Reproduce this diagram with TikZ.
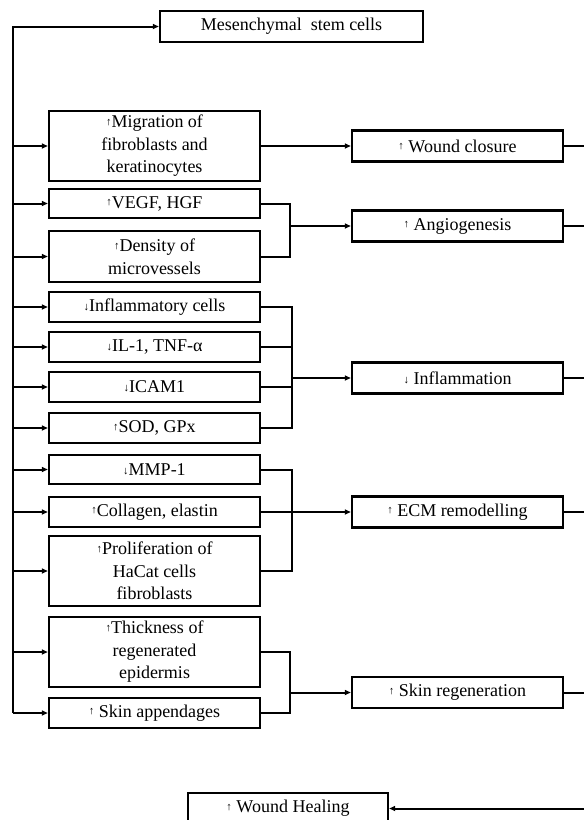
\documentclass[tikz,border=0pt]{standalone}
\usepackage{fontspec}
\setmainfont{Liberation Serif}
\usetikzlibrary{arrows.meta, positioning}
\newcommand{\incr}{\raisebox{2.5pt}{\fontsize{11}{11}\selectfont ↑}}
\newcommand{\decr}{\raisebox{1pt}{\fontsize{11}{11}\selectfont ↓}}
\tikzset{
  every picture/.style={line width=2pt},
  box/.style={draw, line width=2.4pt, align=center, inner sep=2pt},
  lbox/.style={box, minimum width=211pt},
  rbox/.style={box, minimum width=211pt, minimum height=31pt},
  arrow/.style={-{Triangle[length=6pt, width=5pt]}, line width=2pt},
  link/.style={line width=2pt},
}

\begin{document}
\begin{tikzpicture}[x=1pt, y=-1pt, font=\fontsize{18}{22.5}\selectfont]
  \useasboundingbox (0,0) rectangle (584,820);
  \node[box, minimum width=263pt, minimum height=31pt] (msc) at (291.5,26.5) {Mesenchymal\ \ stem cells};
  % left column
  \node[lbox, minimum height=70pt] (mig) at (154.5,146) {\incr Migration of\\fibroblasts and\\keratinocytes};
  \node[lbox, minimum height=29pt] (vegf) at (154.5,203.5) {\incr VEGF, HGF};
  \node[lbox, minimum height=51pt] (dens) at (154.5,256.5) {\incr Density of\\microvessels};
  \node[lbox, minimum height=30pt] (cells) at (154.5,307) {\decr Inflammatory cells};
  \node[lbox, minimum height=30pt] (il) at (154.5,347) {\decr IL-1, TNF-α};
  \node[lbox, minimum height=30pt] (icam) at (154.5,387) {\decr ICAM1};
  \node[lbox, minimum height=30pt] (sod) at (154.5,428) {\incr SOD, GPx};
  \node[lbox, minimum height=29pt] (mmp) at (154.5,469.5) {\decr MMP-1};
  \node[lbox, minimum height=30pt] (coll) at (154.5,512) {\incr Collagen, elastin};
  \node[lbox, minimum height=70pt] (prol) at (154.5,571) {\incr Proliferation of\\HaCat cells\\fibroblasts};
  \node[lbox, minimum height=70pt] (thick) at (154.5,652) {\incr Thickness of\\regenerated\\epidermis};
  \node[lbox, minimum height=30pt] (app) at (154.5,713) {\incr\ Skin appendages};
  % right column
  \node[rbox] (closure) at (457.5,146) {\incr\ Wound closure};
  \node[rbox] (angio) at (457.5,226) {\incr\ Angiogenesis};
  \node[rbox] (inflam) at (457.5,378) {\decr\ Inflammation};
  \node[rbox] (ecm) at (457.5,512) {\incr\ ECM remodelling};
  \node[rbox] (skin) at (457.5,692.5) {\incr\ Skin regeneration};
  \node[box, minimum width=200pt, minimum height=31pt] (wh) at (288,808.5) {\incr\ Wound Healing};
  % rail and joints
  \coordinate (rail) at (13,0);
  \coordinate (edge) at (584,0);
  \coordinate (ja) at (290,226);
  \coordinate (jb) at (292,378);
  \coordinate (jc) at (292,512);
  \coordinate (jd) at (290,692.5);
  \draw[arrow] (app.west -| rail) |- (msc.west);
  \foreach \n in {mig,vegf,dens,cells,il,icam,sod,mmp,coll,prol,thick,app}
    \draw[arrow] (\n.west -| rail) -- (\n.west);
  \draw[arrow] (mig) -- (closure);
  \draw[link] (vegf.east) -| (ja) |- (dens.east);
  \draw[arrow] (ja) -- (angio);
  \draw[link] (cells.east) -| (jb) |- (sod.east);
  \draw[link] (il.east) -- (il.east -| jb);
  \draw[link] (icam.east) -- (icam.east -| jb);
  \draw[arrow] (jb) -- (inflam);
  \draw[link] (mmp.east) -| (jc) |- (prol.east);
  \draw[arrow] (coll) -- (ecm);
  \draw[link] (thick.east) -| (jd) |- (app.east);
  \draw[arrow] (jd) -- (skin);
  % out to the right edge
  \foreach \n in {closure,angio,inflam,ecm,skin}
    \draw[link] (\n.east) -- (\n.east -| edge);
  \draw[arrow] (wh.east -| edge) -- (wh.east);
\end{tikzpicture}
\end{document}
